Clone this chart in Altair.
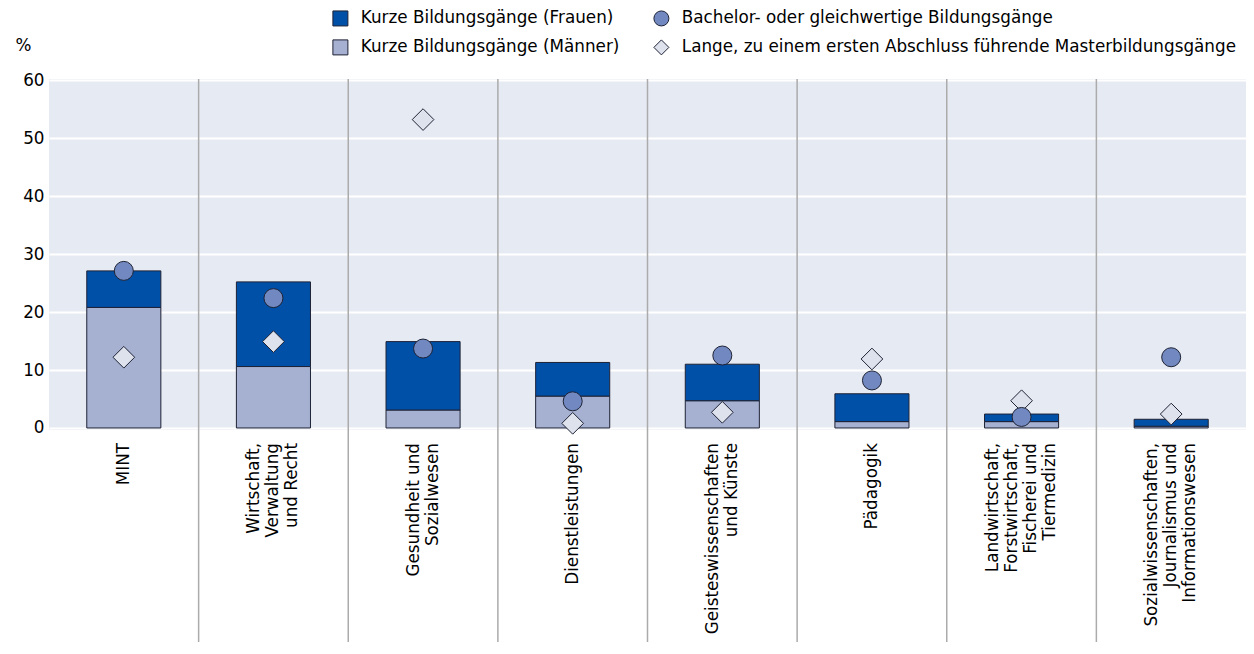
import altair as alt
import pandas as pd

# ---- data ----
categories = [
    "MINT",
    "Wirtschaft,\nVerwaltung\nund Recht",
    "Gesundheit und\nSozialwesen",
    "Dienstleistungen",
    "Geisteswissenschaften\nund Künste",
    "Pädagogik",
    "Landwirtschaft,\nForstwirtschaft,\nFischerei und\nTiermedizin",
    "Sozialwissenschaften,\nJournalismus und\nInformationswesen",
]
kurz_maenner = [20.8, 10.6, 3.1, 5.5, 4.7, 1.1, 1.1, 0.3]
kurz_frauen = [6.3, 14.6, 11.8, 5.8, 6.3, 4.8, 1.3, 1.2]
bachelor = [27.1, 22.4, 13.7, 4.6, 12.5, 8.2, 1.9, 12.2]
master = [12.2, 14.9, 53.2, 0.8, 2.7, 11.9, 4.7, 2.4]

s_frauen = "Kurze Bildungsgänge (Frauen)"
s_bachelor = "Bachelor- oder gleichwertige Bildungsgänge"
s_maenner = "Kurze Bildungsgänge (Männer)"
s_master = "Lange, zu einem ersten Abschluss führende Masterbildungsgänge"
# legend fills column by column: first column Frauen / Männer, second Bachelor / Master
series_names = [s_frauen, s_maenner, s_bachelor, s_master]
series_colors = ["#0050A8", "#A6B1D1", "#7189C0", "#DEE2EC"]
series_shapes = ["square", "square", "circle", "diamond"]
y_ticks = [0, 10, 20, 30, 40, 50, 60]

FONT = "DejaVu Sans"
FS = 16.8
LINE_H = 19
EDGE = "#1E2235"
W, H = 1197, 351
BAND = W / len(categories)

# ---- tables ----
bars_rows = []
for c, m, f in zip(categories, kurz_maenner, kurz_frauen):
    bars_rows.append({"cat": c, "series": s_maenner, "value": m, "ord": 0})
    bars_rows.append({"cat": c, "series": s_frauen, "value": f, "ord": 1})
bars_df = pd.DataFrame(bars_rows)

pts_rows = []
for c, b, ms in zip(categories, bachelor, master):
    pts_rows.append({"cat": c, "series": s_bachelor, "value": b})
    pts_rows.append({"cat": c, "series": s_master, "value": ms})
pts_df = pd.DataFrame(pts_rows)

sep_df = pd.DataFrame({"cat": categories[1:]})
lbl_df = pd.DataFrame({"cat": categories})

x_scale = alt.Scale(domain=categories, paddingInner=0, paddingOuter=0)
y_scale = alt.Scale(domain=[-0.35, 60.2], nice=False, zero=False)
fill_scale = alt.Scale(domain=series_names, range=series_colors)
shape_scale = alt.Scale(domain=series_names, range=series_shapes)
stroke_scale = alt.Scale(domain=series_names, range=[EDGE] * len(series_names))

legend = alt.Legend(title=None, symbolStrokeWidth=1, symbolOpacity=1)

y_axis = alt.Axis(
    values=y_ticks, title="%", titleAngle=0, titleX=-26, titleY=-34,
    titleAlign="center", titleBaseline="middle", titleFontWeight="normal",
    titleFontSize=FS, labelFontSize=FS, labelPadding=5,
    ticks=False, domain=False, grid=True, gridColor="#FFFFFF", gridWidth=2,
)

seps = alt.Chart(sep_df).mark_rule(color="#ABABAB", strokeWidth=1.5).encode(
    x=alt.X("cat:N", scale=x_scale, axis=None, bandPosition=0),
    y=alt.value(0),
    y2=alt.value(575),
)

bars = alt.Chart(bars_df).mark_bar(
    width=alt.RelativeBandSize(0.495), strokeWidth=1
).encode(
    x=alt.X("cat:N", scale=x_scale, axis=None),
    y=alt.Y("value:Q", stack="zero", scale=y_scale, axis=y_axis),
    fill=alt.Fill("series:N", scale=fill_scale, legend=legend),
    stroke=alt.Stroke("series:N", scale=stroke_scale, legend=legend),
    order=alt.Order("ord:Q"),
)

diamonds = alt.Chart(pts_df).transform_filter(
    alt.datum.series == s_master
).mark_point(filled=True, size=470, strokeWidth=1, opacity=1).encode(
    x=alt.X("cat:N", scale=x_scale, axis=None),
    y=alt.Y("value:Q", scale=y_scale, axis=y_axis),
    fill=alt.Fill("series:N", scale=fill_scale, legend=legend),
    shape=alt.Shape("series:N", scale=shape_scale, legend=legend),
    stroke=alt.Stroke("series:N", scale=stroke_scale, legend=legend),
)

circles = alt.Chart(pts_df).transform_filter(
    alt.datum.series == s_bachelor
).mark_point(filled=True, size=361, strokeWidth=1, opacity=1).encode(
    x=alt.X("cat:N", scale=x_scale, axis=None),
    y=alt.Y("value:Q", scale=y_scale, axis=y_axis),
    fill=alt.Fill("series:N", scale=fill_scale, legend=legend),
    shape=alt.Shape("series:N", scale=shape_scale, legend=legend),
    stroke=alt.Stroke("series:N", scale=stroke_scale, legend=legend),
)

# category labels: rotated, multi-line, each block centred on its band
labels = alt.Chart(lbl_df).transform_calculate(
    off=f"{BAND / 2} - (length(split(datum.cat, '\\n')) - 1) * {LINE_H / 2}"
).mark_text(
    angle=270, align="right", baseline="middle", lineBreak="\n",
    lineHeight=LINE_H, font=FONT, fontSize=FS, color="#000000",
).encode(
    x=alt.X("cat:N", scale=x_scale, axis=None),
    xOffset=alt.XOffset("off:Q", scale=None),
    y=alt.value(364),
    text="cat:N",
)

chart = alt.layer(seps, bars, diamonds, circles, labels).properties(
    width=W, height=H,
    autosize=alt.AutoSizeParams(type="none"),
    padding={"left": 41, "top": 71, "right": 0, "bottom": 212},
).configure_view(
    fill="#E6EAF2", stroke=None
).configure_axis(
    labelFont=FONT, titleFont=FONT, labelColor="#000000", titleColor="#000000"
).configure_legend(
    orient="none", legendX=283, legendY=-69, columns=2,
    columnPadding=31, rowPadding=9, labelOffset=12,
    labelFont=FONT, labelFontSize=FS, labelColor="#000000", labelLimit=700,
    symbolSize=225, symbolStrokeWidth=1, symbolOpacity=1,
)

chart.save("out.html", embed_options={"renderer": "svg", "actions": False})
